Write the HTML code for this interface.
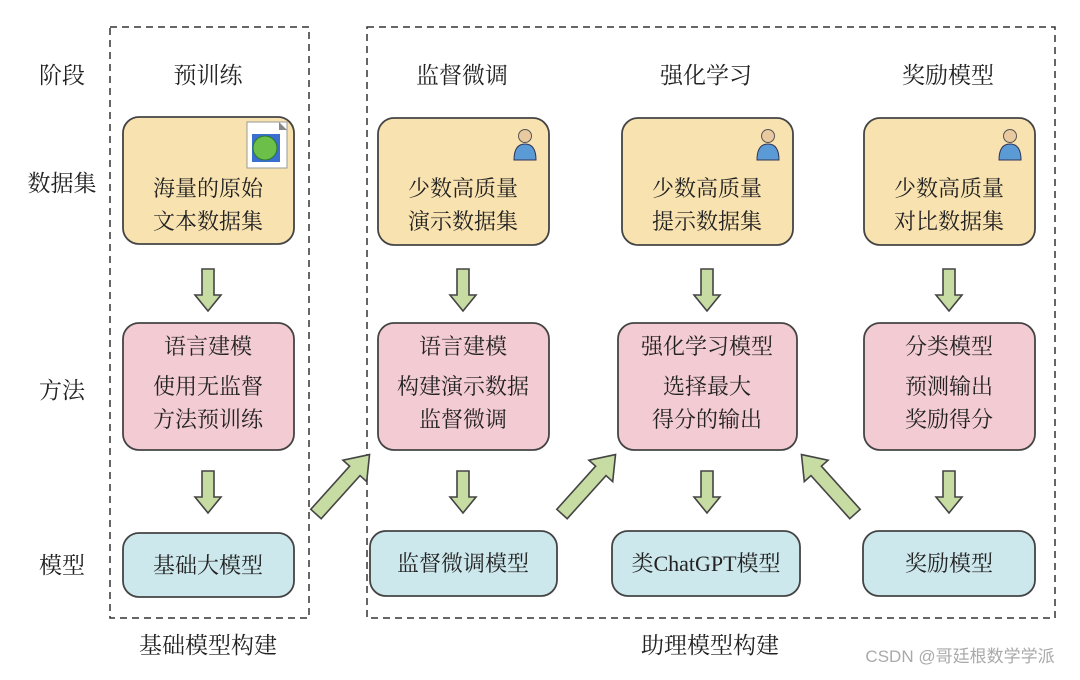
<!DOCTYPE html>
<html><head><meta charset="utf-8"><style>
body{margin:0;background:#fff}
svg text{font-family:"Liberation Serif","Noto Serif CJK SC",serif;fill:#222}
</style></head><body>
<svg width="1080" height="675" viewBox="0 0 1080 675" xmlns="http://www.w3.org/2000/svg">
<defs>
<g id="down"><path d="M-6,0 H6 V26 H13 L0,42 L-13,26 H-6 Z" fill="#c6dca2" stroke="#444" stroke-width="1.6"/></g>
<g id="diag"><path d="M-7,0 H7 V-58 H16 L0,-80 L-16,-58 H-7 Z" fill="#c6dca2" stroke="#444" stroke-width="1.6"/></g>
<g id="person"><circle cx="0" cy="-10" r="6.5" fill="#e8c9a0" stroke="#555"/><path d="M-11,14 Q-11,-2 0,-2 Q11,-2 11,14 Z" fill="#5a9bd5" stroke="#335"/></g>
</defs>
<rect x="110" y="27" width="199" height="591" fill="none" stroke="#333" stroke-width="1.5" stroke-dasharray="7,5"/>
<rect x="367" y="27" width="688" height="591" fill="none" stroke="#333" stroke-width="1.5" stroke-dasharray="7,5"/>
<g font-size="23" text-anchor="middle">
<text x="62" y="83">阶段</text><text x="62" y="191">数据集</text><text x="62" y="398">方法</text><text x="62" y="573">模型</text>
<text x="208" y="83">预训练</text><text x="462" y="83">监督微调</text><text x="706" y="83">强化学习</text><text x="948" y="83">奖励模型</text>
<text x="208" y="653">基础模型构建</text><text x="710" y="653">助理模型构建</text>
</g>
<g stroke="#444" stroke-width="1.8">
<rect x="123" y="117" width="171" height="127" rx="16" fill="#f8e2b0"/>
<rect x="378" y="118" width="171" height="127" rx="16" fill="#f8e2b0"/>
<rect x="622" y="118" width="171" height="127" rx="16" fill="#f8e2b0"/>
<rect x="864" y="118" width="171" height="127" rx="16" fill="#f8e2b0"/>
<rect x="123" y="323" width="171" height="127" rx="16" fill="#f2cbd3"/>
<rect x="378" y="323" width="171" height="127" rx="16" fill="#f2cbd3"/>
<rect x="618" y="323" width="179" height="127" rx="16" fill="#f2cbd3"/>
<rect x="864" y="323" width="171" height="127" rx="16" fill="#f2cbd3"/>
<rect x="123" y="533" width="171" height="64" rx="16" fill="#cde8ec"/>
<rect x="370" y="531" width="187" height="65" rx="16" fill="#cde8ec"/>
<rect x="612" y="531" width="188" height="65" rx="16" fill="#cde8ec"/>
<rect x="863" y="531" width="172" height="65" rx="16" fill="#cde8ec"/>
</g>
<rect x="247" y="122" width="40" height="46" fill="#fff" stroke="#999"/>
<rect x="252" y="134" width="28" height="28" fill="#3a6fd0"/>
<circle cx="265" cy="148" r="12" fill="#6cc04a" stroke="#2a7a2a"/>
<path d="M279,122 L287,130 L279,130Z" fill="#888"/>
<use href="#person" x="525" y="146"/><use href="#person" x="768" y="146"/><use href="#person" x="1010" y="146"/>
<g font-size="22" text-anchor="middle">
<text x="208" y="196">海量的原始</text><text x="208" y="229">文本数据集</text>
<text x="463" y="196">少数高质量</text><text x="463" y="229">演示数据集</text>
<text x="707" y="196">少数高质量</text><text x="707" y="229">提示数据集</text>
<text x="949" y="196">少数高质量</text><text x="949" y="229">对比数据集</text>
<text x="208" y="354">语言建模</text><text x="208" y="394">使用无监督</text><text x="208" y="427">方法预训练</text>
<text x="463" y="354">语言建模</text><text x="463" y="394">构建演示数据</text><text x="463" y="427">监督微调</text>
<text x="707" y="354">强化学习模型</text><text x="707" y="394">选择最大</text><text x="707" y="427">得分的输出</text>
<text x="949" y="354">分类模型</text><text x="949" y="394">预测输出</text><text x="949" y="427">奖励得分</text>
<text x="208" y="573">基础大模型</text><text x="463" y="571">监督微调模型</text><text x="706" y="571">类ChatGPT模型</text><text x="949" y="571">奖励模型</text>
</g>
<use href="#down" x="208" y="269"/><use href="#down" x="463" y="269"/><use href="#down" x="707" y="269"/><use href="#down" x="949" y="269"/>
<use href="#down" x="208" y="471"/><use href="#down" x="463" y="471"/><use href="#down" x="707" y="471"/><use href="#down" x="949" y="471"/>
<use href="#diag" transform="translate(316,514) rotate(42)"/>
<use href="#diag" transform="translate(562,514) rotate(42)"/>
<use href="#diag" transform="translate(855,514) rotate(-42)"/>
<text x="960" y="662" font-size="17" text-anchor="middle" style="fill:#aaa;font-family:'Liberation Sans','Noto Sans CJK SC',sans-serif">CSDN @哥廷根数学学派</text>
</svg>
</body></html>
